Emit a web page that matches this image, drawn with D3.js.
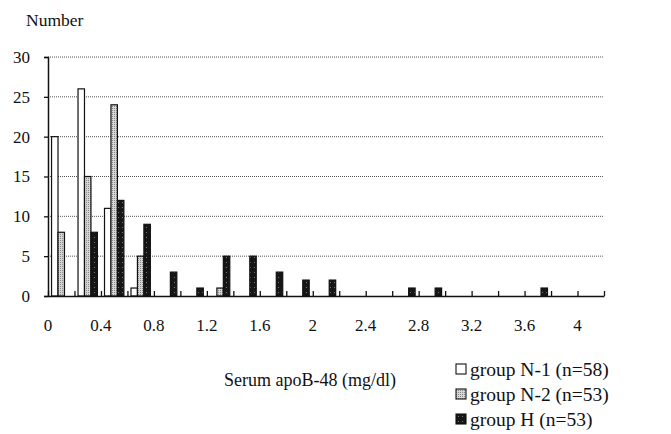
<!DOCTYPE html>
<html lang="en">
<head>
<meta charset="UTF-8">
<script src="https://d3js.org/d3.v7.min.js"></script>
<title>Serum apoB-48</title>
<style>
  body { margin: 0; background: #fff; }
  text { font-family: "Liberation Serif", "DejaVu Serif", serif; fill: #111; }
</style>
</head>
<body>
<svg id="plot"></svg>
<script>
// bins of 0.2 mg/dl, labelled by their lower edge
var bins = ["0","0.2","0.4","0.6","0.8","1","1.2","1.4","1.6","1.8","2","2.2","2.4","2.6","2.8","3","3.2","3.4","3.6","3.8","4"];
var groupN1 = [20,26,11,1,0,0,0,0,0,0,0,0,0,0,0,0,0,0,0,0,0];
var groupN2 = [8,15,24,5,0,0,1,0,0,0,0,0,0,0,0,0,0,0,0,0,0];
var groupH  = [0,8,12,9,3,1,5,5,3,2,2,0,0,1,1,0,0,0,1,0,0];
var seriesNames = ["group N-1 (n=58)", "group N-2 (n=53)", "group H (n=53)"];
var xTickLabels = ["0","0.4","0.8","1.2","1.6","2","2.4","2.8","3.2","3.6","4"];
var yTicks = [0,5,10,15,20,25,30];

var width = 671, height = 434;
var margin = {top: 57, bottom: 138, left: 48, right: 67};

var svg = d3.select("#plot").attr("width", width).attr("height", height);
var defs = svg.append("defs");

// stippled fills like the scanned original
var pg = defs.append("pattern").attr("id","grayfill").attr("patternUnits","userSpaceOnUse")
    .attr("width",2).attr("height",2);
pg.append("rect").attr("width",2).attr("height",2).attr("fill","#d6d6d6");
pg.append("rect").attr("width",1).attr("height",1).attr("fill","#8a8a8a");
var pb = defs.append("pattern").attr("id","blackfill").attr("patternUnits","userSpaceOnUse")
    .attr("width",4).attr("height",5);
pb.append("rect").attr("width",4).attr("height",5).attr("fill","#161616");
pb.append("rect").attr("x",2).attr("y",2).attr("width",1).attr("height",1).attr("fill","#777");

var fills = ["#fff", "url(#grayfill)", "url(#blackfill)"];
var data = [groupN1, groupN2, groupH];

var x0 = d3.scaleBand().domain(bins).range([margin.left, width - margin.right]).padding(0);
var x1 = d3.scaleBand().domain([0,1,2]).range([0, x0.bandwidth()]).paddingInner(0).paddingOuter(0.55);
var xv = d3.scaleLinear().domain([0, 4.2]).range([margin.left, width - margin.right]);
var y = d3.scaleLinear().domain([0, 30]).range([height - margin.bottom, margin.top]);

// dotted grid
svg.append("g").selectAll("line").data(yTicks.slice(1)).enter().append("line")
    .attr("x1", margin.left).attr("x2", width - margin.right)
    .attr("y1", d => y(d)).attr("y2", d => y(d))
    .attr("stroke", "#555").attr("stroke-width", 1).attr("stroke-dasharray", "1,1");

// bars
bins.forEach(function(b, i) {
    data.forEach(function(series, s) {
        if (series[i] === 0) return;
        svg.append("rect")
            .attr("x", x0(b) + x1(s))
            .attr("y", y(series[i]))
            .attr("width", x1.bandwidth())
            .attr("height", y(0) - y(series[i]))
            .attr("fill", fills[s])
            .attr("stroke", "#111").attr("stroke-width", 1.2);
    });
});

// y axis
var yAxis = d3.axisLeft(y).tickValues(yTicks).tickSize(4).tickPadding(14);
svg.append("g").attr("transform", `translate(${margin.left},0)`).call(yAxis)
    .call(g => g.select(".domain").attr("stroke","#111").attr("stroke-width",1.5))
    .call(g => g.selectAll(".tick line").attr("stroke","#111").attr("stroke-width",1.3))
    .call(g => g.selectAll("text").attr("font-size", 17));

// x axis: small upward ticks on every bin edge, labels every 0.4
var edges = d3.range(0, 22).map(i => i * 0.2);
svg.append("g").attr("transform", `translate(0,${y(0)})`)
    .call(d3.axisBottom(xv).tickValues(edges).tickSize(-5).tickFormat("").tickSizeOuter(0))
    .call(g => g.select(".domain").attr("stroke","#111").attr("stroke-width",1.5))
    .call(g => g.selectAll(".tick line").attr("stroke","#111").attr("stroke-width",1.3));
svg.append("g").selectAll("text").data(xTickLabels).enter().append("text")
    .attr("x", d => xv(+d)).attr("y", y(0) + 35)
    .attr("text-anchor", "middle").attr("font-size", 17)
    .text(d => d);

// titles
svg.append("text").attr("x", 26).attr("y", 26).attr("font-size", 17.5).text("Number");
svg.append("text").attr("x", 224).attr("y", 386).attr("font-size", 18)
    .text("Serum apoB-48 (mg/dl)");

// legend
var leg = svg.append("g").attr("transform", "translate(456,369)");
seriesNames.forEach(function(name, i) {
    var row = leg.append("g").attr("transform", `translate(0,${i * 25})`);
    row.append("rect").attr("x", 0).attr("y", -5).attr("width", 10).attr("height", 10)
        .attr("fill", fills[i]).attr("stroke", "#111").attr("stroke-width", 1.1);
    row.append("text").attr("x", 14).attr("y", 6.5).attr("font-size", 19.5)
        .text(name);
});
</script>
</body>
</html>
